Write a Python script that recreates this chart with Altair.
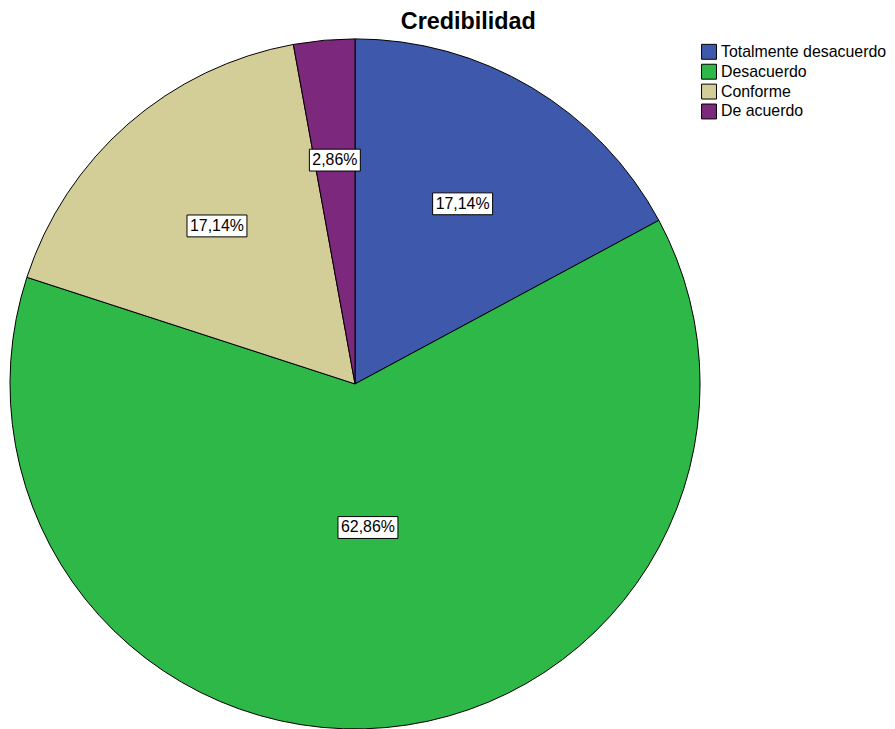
import altair as alt
import pandas as pd

categorias = ["Totalmente desacuerdo", "Desacuerdo", "Conforme", "De acuerdo"]
porcentajes = [17.14, 62.86, 17.14, 2.86]
colores = ["#3E58AC", "#2EB848", "#D3CE97", "#7C287D"]

df = pd.DataFrame({
    "categoria": categorias,
    "pct": porcentajes,
    "orden": list(range(len(categorias))),
})

R = 347
CX = 347
CY = 349

color_scale = alt.Scale(domain=categorias, range=colores)

base = alt.Chart(df)

pie = base.mark_arc(radius=R, stroke="#000000", strokeWidth=1).encode(
    theta=alt.Theta("pct:Q", stack=True),
    color=alt.Color(
        "categoria:N",
        scale=color_scale,
        sort=categorias,
        legend=alt.Legend(
            title=None,
            orient="none",
            legendX=695,
            legendY=7,
            padding=0,
            symbolType="square",
            symbolSize=225,
            symbolStrokeColor="#000000",
            symbolStrokeWidth=1,
            symbolOpacity=1,
            labelFont="Liberation Sans",
            labelFontSize=16,
            labelColor="#000000",
            labelOffset=4,
            rowPadding=0,
            labelLimit=300,
        ),
    ),
    order=alt.Order("orden:Q"),
    x=alt.value(CX),
    y=alt.value(CY),
)

lab = base.transform_window(
    cum="sum(pct)", sort=[alt.SortField("orden")], frame=[None, 0]
).transform_calculate(
    mid="(datum.cum - datum.pct / 2) / 100 * 2 * PI",
    rr="datum.pct > 50 ? 145 : (datum.pct < 5 ? 226 : 211)",
    px=f"{CX} + datum.rr * sin(datum.mid)",
    py=f"{CY} - datum.rr * cos(datum.mid)",
    etiqueta="replace(format(datum.pct, '.2f'), '.', ',') + '%'",
    hw="(6 + 9.05 * length(datum.etiqueta)) / 2",
    x1="datum.px - datum.hw",
    x2="datum.px + datum.hw",
    y1="datum.py - 11",
    y2="datum.py + 11",
)

cajas = lab.mark_rect(fill="#FFFFFF", stroke="#000000", strokeWidth=1).encode(
    x=alt.X("x1:Q", scale=None, axis=None),
    x2="x2:Q",
    y=alt.Y("y1:Q", scale=None, axis=None),
    y2="y2:Q",
)

textos = lab.mark_text(
    font="Liberation Sans", fontSize=16, color="#000000", align="center", baseline="middle"
).encode(
    x=alt.X("px:Q", scale=None, axis=None),
    y=alt.Y("py:Q", scale=None, axis=None),
    text="etiqueta:N",
)

chart = alt.layer(pie, cajas, textos).properties(
    width=694,
    height=678,
    padding=0,
    background="#FFFFFF",
    title=alt.TitleParams(
        "Credibilidad",
        font="Liberation Sans",
        fontSize=23.5,
        fontWeight="bold",
        color="#000000",
        anchor="start",
        dx=395,
        dy=1,
        offset=4,
    ),
).configure_view(strokeWidth=0, strokeOpacity=0)

chart.save("out.html", embed_options={"renderer": "svg", "actions": False})
